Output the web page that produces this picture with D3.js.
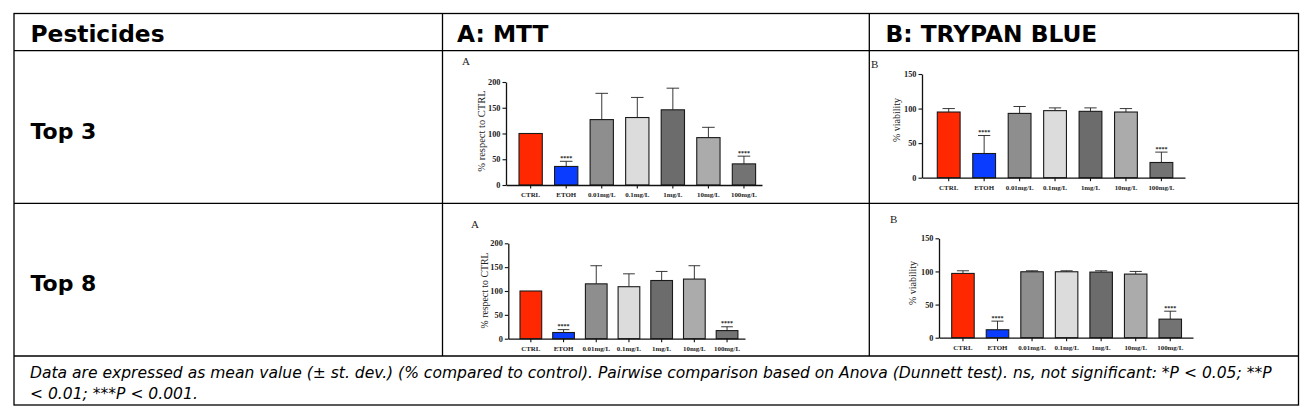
<!DOCTYPE html>
<html>
<head>
<meta charset="utf-8">
<script src="https://cdn.jsdelivr.net/npm/d3@7"></script>
<style>
  html, body { margin: 0; padding: 0; background: #fff; }
  svg { display: block; }
</style>
</head>
<body>
<svg id="figura" width="1312" height="420"></svg>
<script>
// Datos
const categorias = ["CTRL", "ETOH", "0.01mg/L", "0.1mg/L", "1mg/L", "10mg/L", "100mg/L"];

const mttTop3 = [100, 36, 127, 131, 146, 92, 41];
const mttTop3Sd = [0, 10, 51, 39, 42, 20, 15];
const trypanTop3 = [95, 35, 93, 97, 96, 95, 22];
const trypanTop3Sd = [5, 26, 10, 4, 5, 5, 15];

const mttTop8 = [100, 13, 115, 109, 122, 125, 17];
const mttTop8Sd = [0, 6, 38, 27, 19, 28, 8];
const trypanTop8 = [97, 12, 99.5, 99.5, 99, 96, 28];
const trypanTop8Sd = [4, 13, 1.5, 1.5, 2, 4, 12];

const asteriscos = ["", "****", "", "", "", "", "****"];
const ticksMtt = [0, 50, 100, 150, 200];
const ticksTrypan = [0, 50, 100, 150];

const encabezados = ["Pesticides", "A: MTT", "B: TRYPAN BLUE"];
const filas = ["Top 3", "Top 8"];
const ejeMtt = "% respect to CTRL";
const ejeTrypan = "% viability";
const nota = [
  "Data are expressed as mean value (\u00b1 st. dev.) (% compared to control). Pairwise comparison based on Anova (Dunnett test). ns, not significant: *P < 0.05; **P",
  "< 0.01; ***P < 0.001."
];

// Colores de las barras
const colores = ["#ff2800", "#0a3cff", "#8e8e8e", "#dcdcdc", "#6c6c6c", "#ababab", "#737373"];

const svg = d3.select("#figura");

// Tabla
const izq = 14, der = 1298.5, arriba = 13.5, abajo = 405;
const lineasH = [50.7, 203.3, 356];
const lineasV = [442.5, 869.3];

svg.append("rect")
  .attr("x", izq).attr("y", arriba)
  .attr("width", der - izq).attr("height", abajo - arriba)
  .attr("fill", "none").attr("stroke", "#000").attr("stroke-width", 1.3);

svg.selectAll("line.h").data(lineasH).enter().append("line")
  .attr("x1", izq).attr("x2", der)
  .attr("y1", d => d).attr("y2", d => d)
  .attr("stroke", "#000").attr("stroke-width", 1.3);

svg.selectAll("line.v").data(lineasV).enter().append("line")
  .attr("x1", d => d).attr("x2", d => d)
  .attr("y1", arriba).attr("y2", lineasH[2])
  .attr("stroke", "#000").attr("stroke-width", 1.3);

const fuenteTitulos = "'DejaVu Sans', 'Open Sans', sans-serif";

const posEncabezado = [30.5, 457, 885.5];
svg.selectAll("text.enc").data(encabezados).enter().append("text")
  .attr("x", (d, i) => posEncabezado[i]).attr("y", 41.5)
  .attr("font-family", fuenteTitulos).attr("font-weight", 700)
  .attr("font-size", 23.3).attr("fill", "#000")
  .text(d => d);

const posFila = [138.5, 291];
svg.selectAll("text.fila").data(filas).enter().append("text")
  .attr("x", 30.5).attr("y", (d, i) => posFila[i])
  .attr("font-family", fuenteTitulos).attr("font-weight", 700)
  .attr("font-size", 22).attr("fill", "#000")
  .text(d => d);

// Nota al pie: se ajusta el tamaño para que la primera linea llegue hasta donde llega en la figura
const posNota = [378, 398.5];
const textosNota = svg.selectAll("text.nota").data(nota).enter().append("text")
  .attr("x", 30).attr("y", (d, i) => posNota[i])
  .attr("font-family", fuenteTitulos).attr("font-style", "italic")
  .attr("font-size", 16).attr("fill", "#000")
  .text(d => d);
const largoNota = textosNota.node().getComputedTextLength();
if (largoNota > 0) textosNota.attr("font-size", 16 * (1242 / largoNota));

// Graficos de barras
const serif = "'Liberation Serif', 'DejaVu Serif', serif";

function dibujarPanel(cfg, medias, desvios, ticks, yMax, etiqueta, letra) {
  const g = svg.append("g");
  const n = categorias.length;
  const pIn = 1 - cfg.ancho / cfg.paso;
  const largo = cfg.x1 - cfg.x0;
  const pOut = (largo / cfg.paso - (n - pIn)) / 2;
  const alinear = (cfg.primera - cfg.x0) / (largo - cfg.paso * (n - pIn));

  const x = d3.scaleBand()
    .domain(categorias)
    .range([cfg.x0, cfg.x1])
    .paddingInner(pIn)
    .paddingOuter(pOut)
    .align(alinear);

  const y = d3.scaleLinear()
    .domain([0, yMax])
    .range([cfg.y0, cfg.yTop]);

  const datos = categorias.map((c, i) => ({
    cat: c, media: medias[i], sd: desvios[i], marca: asteriscos[i], color: colores[i]
  }));

  // barras de error (solo hacia arriba)
  const cx = d => x(d.cat) + x.bandwidth() / 2;
  const conError = datos.filter(d => d.sd > 0);
  g.selectAll("line.err").data(conError).enter().append("line")
    .attr("x1", cx).attr("x2", cx)
    .attr("y1", d => y(d.media)).attr("y2", d => y(d.media + d.sd))
    .attr("stroke", "#222").attr("stroke-width", 0.9);
  g.selectAll("line.cap").data(conError).enter().append("line")
    .attr("x1", d => cx(d) - x.bandwidth() * 0.27).attr("x2", d => cx(d) + x.bandwidth() * 0.27)
    .attr("y1", d => y(d.media + d.sd)).attr("y2", d => y(d.media + d.sd))
    .attr("stroke", "#222").attr("stroke-width", 0.9);

  g.selectAll("rect").data(datos).enter().append("rect")
    .attr("x", d => x(d.cat))
    .attr("y", d => y(d.media))
    .attr("width", x.bandwidth())
    .attr("height", d => y(0) - y(d.media))
    .attr("fill", d => d.color)
    .attr("stroke", "#1a1a1a").attr("stroke-width", 1.1);

  g.selectAll("text.ast").data(datos.filter(d => d.marca)).enter().append("text")
    .attr("x", cx)
    .attr("y", d => y(d.media + d.sd) - 1.5)
    .attr("text-anchor", "middle")
    .attr("font-family", serif).attr("font-weight", 700)
    .attr("font-size", 6).attr("fill", "#222")
    .text(d => d.marca);

  const ejeY = g.append("g")
    .attr("transform", `translate(${cfg.x0},0)`)
    .call(d3.axisLeft(y).tickValues(ticks).tickSize(3.5).tickSizeOuter(0).tickPadding(2));
  const ejeX = g.append("g")
    .attr("transform", `translate(0,${cfg.y0})`)
    .call(d3.axisBottom(x).tickSize(3.5).tickSizeOuter(0).tickPadding(3.5));

  [ejeY, ejeX].forEach(e => {
    e.select(".domain").attr("stroke", "#111").attr("stroke-width", 1.3);
    e.selectAll(".tick line").attr("stroke", "#111").attr("stroke-width", 1.1);
    e.selectAll(".tick text")
      .attr("font-family", serif).attr("font-weight", 700).attr("fill", "#222");
  });
  ejeY.selectAll(".tick text").attr("font-size", 8.3);
  ejeX.selectAll(".tick text").attr("font-size", 6.9);

  g.append("text")
    .attr("transform", `translate(${cfg.etX},${cfg.etY}) rotate(-90)`)
    .attr("text-anchor", "middle")
    .attr("font-family", serif).attr("font-size", cfg.etTam).attr("fill", "#222")
    .text(etiqueta);

  g.append("text")
    .attr("x", cfg.letraX).attr("y", cfg.letraY)
    .attr("font-family", serif).attr("font-size", 11).attr("fill", "#222")
    .text(letra);
}

dibujarPanel({ x0: 506, x1: 762, primera: 519, paso: 35.55, ancho: 23.3, y0: 185, yTop: 82,
  etX: 485, etY: 131, etTam: 10.5, letraX: 462, letraY: 65 },
  mttTop3, mttTop3Sd, ticksMtt, 200, ejeMtt, "A");

dibujarPanel({ x0: 922, x1: 1185, primera: 937.3, paso: 35.45, ancho: 22.8, y0: 177.7, yTop: 74,
  etX: 900, etY: 120, etTam: 10, letraX: 871, letraY: 68 },
  trypanTop3, trypanTop3Sd, ticksTrypan, 150, ejeTrypan, "B");

dibujarPanel({ x0: 508.3, x1: 745, primera: 520, paso: 32.7, ancho: 21.7, y0: 338.7, yTop: 243.3,
  etX: 488, etY: 290.5, etTam: 9.8, letraX: 471, letraY: 228 },
  mttTop8, mttTop8Sd, ticksMtt, 200, ejeMtt, "A");

dibujarPanel({ x0: 939, x1: 1193, primera: 951.7, paso: 34.55, ancho: 22.5, y0: 337.7, yTop: 238.3,
  etX: 916, etY: 283, etTam: 10, letraX: 890, letraY: 223 },
  trypanTop8, trypanTop8Sd, ticksTrypan, 150, ejeTrypan, "B");
</script>
</body>
</html>
